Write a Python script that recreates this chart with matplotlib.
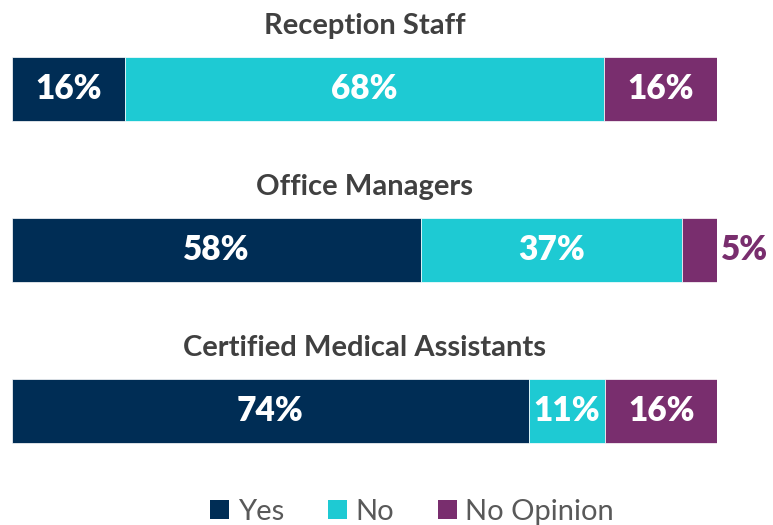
import matplotlib.pyplot as plt
from matplotlib.patches import Patch

groups = ["Reception Staff", "Office Managers", "Certified Medical Assistants"]
yes = [16, 58, 74]
no = [68, 37, 11]
no_opinion = [16, 5, 16]
series = ["Yes", "No", "No Opinion"]
colors = ["#002D55", "#1ECAD3", "#792E6E"]

plt.rcParams['font.family'] = ['Lato', 'DejaVu Sans']

fig = plt.figure(figsize=(7.73, 5.25), dpi=100)
ax = fig.add_axes([12 / 773, 0, 705 / 773, 1])
ax.set_xlim(0, 100)
ax.set_ylim(2.708, -0.553)
ax.axis('off')

h = 0.4
for i, g in enumerate(groups):
    vals = [yes[i], no[i], no_opinion[i]]
    tot = sum(vals)
    left = 0
    for v, c in zip(vals, colors):
        w = v / tot * 100
        ax.barh(i, w, left=left, height=h, color=c, edgecolor='white', linewidth=0.5)
        if w >= 8:
            ax.text(left + w / 2, i, "%d%%" % v, ha='center', va='center',
                    color='white', fontsize=24, fontweight='heavy')
        else:
            ax.text(left + w + 0.6, i, "%d%%" % v, ha='left', va='center',
                    color=c, fontsize=24, fontweight='heavy')
        left += w
    ax.text(50, i - h / 2 - 0.14, g, ha='center', va='baseline',
            color='#404040', fontsize=21, fontweight='bold')

handles = [Patch(facecolor=c, label=s) for s, c in zip(series, colors)]
fig.legend(handles=handles, loc='lower center', bbox_to_anchor=(0.533, -0.05),
           ncol=3, frameon=False, fontsize=21, labelcolor='#595959',
           handlelength=0.65, handleheight=0.65, columnspacing=1.5, handletextpad=0.3)

fig.savefig('out.png', dpi=100)
